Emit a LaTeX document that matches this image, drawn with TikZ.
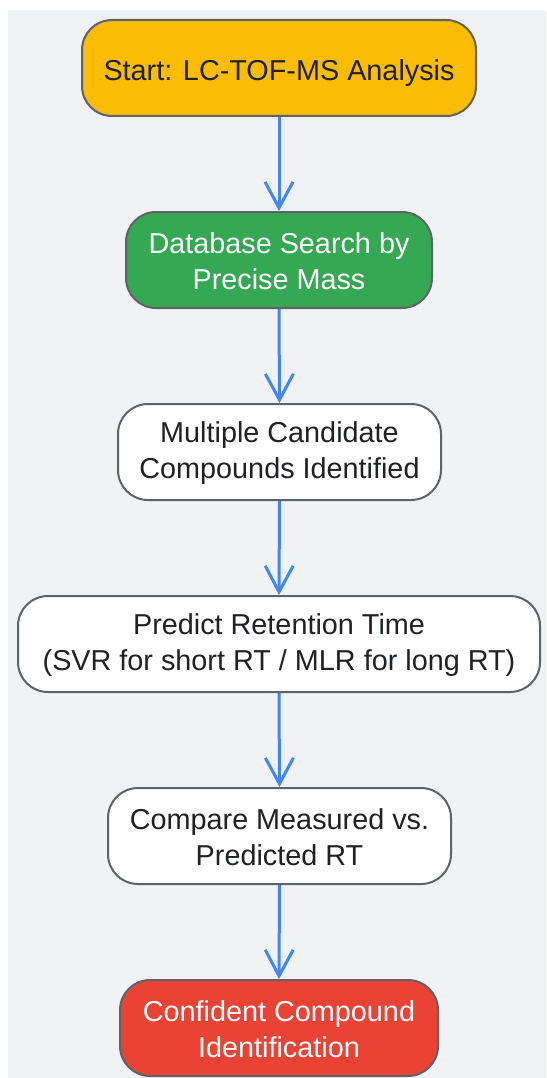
\documentclass[tikz,border=0pt]{standalone}
\usepackage{fontspec}
\setmainfont{Liberation Sans}
\usetikzlibrary{arrows.meta}
\definecolor{bg}{HTML}{F1F2F4}
\definecolor{bordergray}{HTML}{5F6368}
\definecolor{ylw}{HTML}{FBBC05}
\definecolor{grn}{HTML}{34A853}
\definecolor{rd}{HTML}{EA4335}
\definecolor{txt}{HTML}{202124}
\definecolor{arr}{HTML}{4285F4}
\tikzset{
  box/.style={draw=bordergray, line width=2pt, rounded corners=30pt, minimum height=96pt, inner sep=0pt, align=center, text=txt, font=\fontsize{28.8}{36}\selectfont},
  lbl/.style={inner sep=0pt, align=center, text=txt, font=\fontsize{28.8}{36}\selectfont},
  conn/.style={draw=arr, line width=3pt, -{Straight Barb[length=26pt,width=28pt,line width=3pt]}}
}
\begin{document}
\begin{tikzpicture}[x=1pt,y=-1pt]
\useasboundingbox (0,0) rectangle (546,1078);
\fill[bg] (8,10) rectangle (546,1078);
\node[box, fill=ylw, minimum width=394pt] (n1) at (279,68) {};
\node[box, fill=grn, minimum width=306pt] (n2) at (279,260) {};
\node[box, fill=white, minimum width=323pt] (n3) at (279.5,452) {};
\node[box, fill=white, minimum width=522pt] (n4) at (279,644) {};
\node[box, fill=white, minimum width=343pt] (n5) at (279.5,836) {};
\node[box, fill=rd, minimum width=318pt] (n6) at (279,1028) {};
\node[lbl] (t1) at ([yshift=-5pt]n1.center) {Start: LC-TOF-MS Analysis};
\node[lbl, text=white] (t2) at ([yshift=-1.5pt]n2.center) {Database Search by\\Precise Mass};
\node[lbl] (t3) at ([yshift=-1.5pt]n3.center) {Multiple Candidate\\Compounds Identified};
\node[lbl] (t4) at ([yshift=-1.5pt]n4.center) {Predict Retention Time\\(SVR for short RT / MLR for long RT)};
\node[lbl] (t5) at ([yshift=-1.5pt]n5.center) {Compare Measured vs.\\Predicted RT};
\node[lbl, text=white] (t6) at ([yshift=-1.5pt]n6.center) {Confident Compound\\Identification};
\draw[conn] (n1.south) -- (n2.north);
\draw[conn] (n2.south) -- (n3.north);
\draw[conn] (n3.south) -- (n4.north);
\draw[conn] (n4.south) -- (n5.north);
\draw[conn] (n5.south) -- (n6.north);
\end{tikzpicture}
\end{document}
